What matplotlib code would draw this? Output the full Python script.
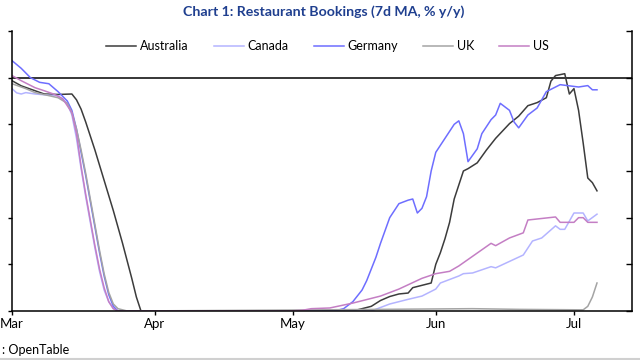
import matplotlib
matplotlib.use("Agg")
import matplotlib.pyplot as plt
import pandas as pd
from matplotlib.lines import Line2D

START = pd.Timestamp("2020-03-01")

# day offsets from 1 March 2020 and % y/y values
aus_days = [0, 2, 5, 7, 10, 13, 14, 15, 16, 17, 18, 20, 22, 24, 26, 27, 28,
            72, 74, 76, 78, 80, 82, 84, 86, 87, 89, 91, 92, 93, 94, 95, 96, 98, 99,
            101, 103, 105, 108, 110, 112, 114, 116, 117, 118, 120, 121, 122, 123,
            124, 125, 126, 127]
aus_vals = [-1.3, -3.5, -5.6, -7, -7.2, -7, -9.5, -13.5, -19, -25, -31, -44, -57, -71, -86, -94, -100,
            -100, -100, -99, -98, -95.5, -93.8, -92.7, -92.3, -90, -89, -88, -80, -75, -69, -62, -52, -40, -39,
            -36.5, -31, -26, -19.7, -16.5, -12, -10.7, -8.6, -1.5, 0.9, 1.7, -7, -4.7, -14,
            -28, -43, -45, -48.5]

can_days = [0, 1, 2, 3, 5, 8, 10, 12, 13, 14, 15, 16, 17, 18, 19, 20, 21, 22, 23,
            78, 82, 86, 89, 92, 93, 97, 98, 100, 104, 105, 111, 113, 115, 118, 119,
            120, 122, 124, 125, 127]
can_vals = [-4.7, -6.5, -7, -6.4, -7, -7.5, -7.7, -11, -16, -26, -39, -51, -62, -73, -83, -91, -96, -99, -100,
            -100, -97, -95, -93.6, -90.6, -88, -85, -84, -83.7, -81, -81.5, -76, -70, -68.7, -63.5, -65,
            -65, -58, -58, -61.4, -58.5]

ger_days = [0, 2, 4, 6, 8, 10, 12, 13, 14, 15, 16, 17, 18, 19, 20, 21, 22, 23,
            70, 72, 74, 76, 77, 78, 79, 80, 82, 84, 86, 87, 88, 89, 90, 91, 92, 94,
            96, 97, 98, 99, 101, 102, 104, 105, 106, 108, 109, 110, 112, 114, 116,
            119, 121, 123, 125, 126, 127]
ger_vals = [7.3, 4, 0, -2, -2.6, -6, -10, -14, -22, -32, -42, -53, -64, -75, -85, -93, -98, -100,
            -100, -99, -96, -91, -87, -82, -77, -71, -60, -54, -52.5, -52, -58, -56, -51, -40, -32, -26,
            -20, -18.5, -24, -36, -30.5, -24, -18, -16, -11, -14, -19, -21.5, -16, -13, -6,
            -3, -3.5, -4, -3.4, -5.2, -5.2]

uk_days = [0, 3, 5, 8, 10, 12, 13, 14, 15, 16, 17, 18, 19, 20, 21, 22, 23, 25,
           60, 80, 100, 110, 124, 125, 126, 127]
uk_vals = [-2.6, -4.7, -6.4, -7.7, -8.6, -11, -15, -22, -31, -41, -52, -63, -74, -84, -92, -97, -99, -100,
           -99.6, -99.3, -99, -99.3, -99.5, -98, -94, -88]

us_days = [0, 2, 5, 7, 9, 11, 12, 13, 14, 15, 16, 17, 18, 19, 20, 21, 22, 23,
           60, 63, 65, 69, 74, 80, 84, 89, 92, 95, 97, 104, 105, 108, 111, 112,
           118, 119, 122, 123, 124, 125, 127]
us_vals = [0.9, -1.3, -4.3, -5.6, -7, -9, -12, -15, -24, -38, -50, -61, -72, -82, -90, -96, -99, -100,
           -100, -99.7, -99, -98.7, -96.6, -93.6, -90.6, -86, -84, -83, -80.7, -71, -72, -68.7, -66.5, -61,
           -59.7, -62, -62, -60, -60, -62, -62]

series_names = ["Australia", "Canada", "Germany", "UK", "US"]
series_days = [aus_days, can_days, ger_days, uk_days, us_days]
series_vals = [aus_vals, can_vals, ger_vals, uk_vals, us_vals]
series_colors = ["#3c3c3c", "#b4b4ff", "#6e6eff", "#a4a4a4", "#c47ec4"]

y_ticks = [20, 0, -20, -40, -60, -80, -100]
x_tick_labels = ["Mar", "Apr", "May", "Jun", "Jul"]
x_tick_dates = ["2020-03-01", "2020-04-01", "2020-05-01", "2020-06-01", "2020-07-01"]

plt.rcParams['font.family'] = ['Lato', 'DejaVu Sans']

fig = plt.figure(figsize=(6.4, 3.6), dpi=100)
ax = fig.add_axes([12 / 640, 1 - 311 / 360, 620 / 640, 280 / 360])

for name, d, v, c in zip(series_names, series_days, series_vals, series_colors):
    dates = [START + pd.Timedelta(days=k) for k in d]
    ax.plot(dates, v, color=c, lw=1.1, label=name)

ax.axhline(0, color="black", lw=1.1, zorder=1)

ax.set_ylim(-100, 20)
ax.set_xlim(START, START + pd.Timedelta(days=134.6))
ax.set_yticks(y_ticks)
ax.set_yticklabels([])
ax.set_xticks([pd.Timestamp(t) for t in x_tick_dates])
ax.set_xticklabels(x_tick_labels)

ax.spines["top"].set_visible(False)
for s in ["left", "right", "bottom"]:
    ax.spines[s].set_linewidth(1.1)
    ax.spines[s].set_color("black")
ax.tick_params(axis="y", which="both", left=True, right=False, direction="out", length=3, width=1)
ax.tick_params(axis="x", direction="out", length=3, width=1, labelsize=9.5, pad=2, colors="black")
# right ticks inward
ax2 = ax.twinx()
ax2.set_ylim(-100, 20)
ax2.set_yticks(y_ticks)
ax2.set_yticklabels([])
ax2.tick_params(axis="y", direction="in", length=4, width=1)
for s in ["top", "left", "bottom", "right"]:
    ax2.spines[s].set_visible(False)

leg = ax.legend(loc="upper center", bbox_to_anchor=(0.509, 1.0), ncol=5, frameon=False,
                fontsize=9, handlelength=2.4, handletextpad=0.3, columnspacing=2.0,
                borderaxespad=0.35)

fig.text(0.5 + 4 / 640, 1 - 12 / 360, "Chart 1: Restaurant Bookings (7d MA, % y/y)", ha="center", va="center",
         fontsize=10.2, fontweight="bold", color="#1f3f8f")
fig.text(2 / 640, 1 - 350 / 360, ": OpenTable", ha="left", va="center", fontsize=9, color="black")
fig.add_artist(Line2D([0, 1], [1.5 / 360, 1.5 / 360], color="#d0d0d0", lw=1.5))

fig.savefig("out.png", dpi=100)
